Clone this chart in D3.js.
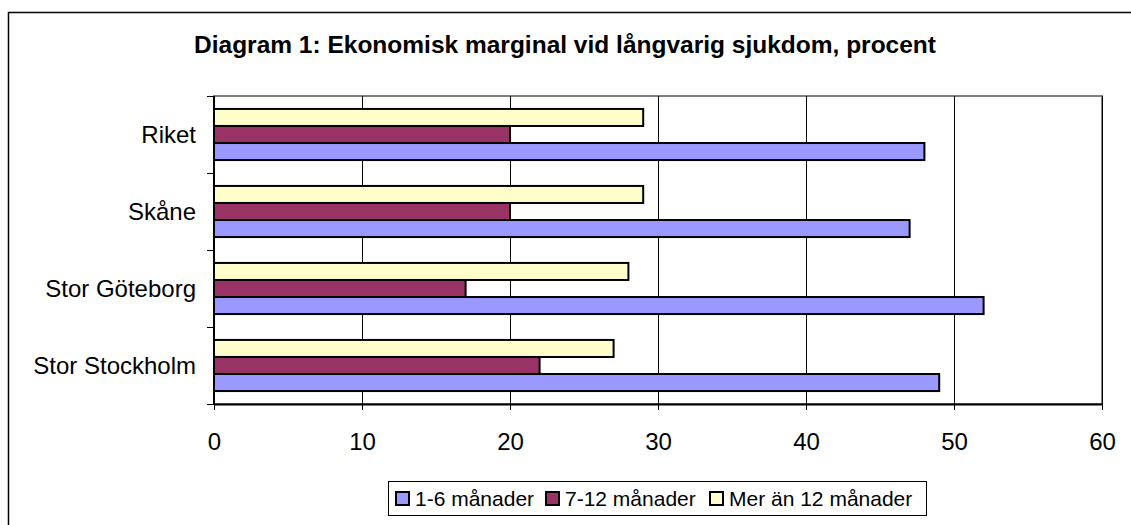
<!DOCTYPE html>
<html>
<head>
<meta charset="utf-8">
<script src="https://cdn.jsdelivr.net/npm/d3@7"></script>
<style>
  body { margin: 0; background: #fff; }
  svg { display: block; font-family: "Liberation Sans", Arial, sans-serif; }
  .grid line { stroke: #000; stroke-width: 1; }
  .axis path, .axis line { stroke: #000; }
  .axis text { font-size: 24px; fill: #000; }
</style>
</head>
<body>
<svg class="chart"></svg>
<script>
// data
var categories = ["Riket", "Skåne", "Stor Göteborg", "Stor Stockholm"];
var seriesNames = ["Mer än 12 månader", "7-12 månader", "1-6 månader"];
var mer12 = [29, 29, 28, 27];
var m7_12 = [20, 20, 17, 22];
var m1_6 = [48, 47, 52, 49];
var xTicks = [0, 10, 20, 30, 40, 50, 60];
var legendOrder = ["1-6 månader", "7-12 månader", "Mer än 12 månader"];

var colors = {
  "1-6 månader": "#9999ff",
  "7-12 månader": "#993366",
  "Mer än 12 månader": "#ffffcc"
};

var W = 1131, H = 525;
var margin = {top: 96, right: 29, bottom: 121, left: 214};
var width = W - margin.left - margin.right,
    height = H - margin.top - margin.bottom;

var svg = d3.select(".chart").attr("width", W).attr("height", H);

// outer frame (runs off the right and bottom edges)
svg.append("rect")
    .attr("x", 8.5).attr("y", 12.5)
    .attr("width", 1200).attr("height", 600)
    .attr("fill", "none").attr("stroke", "#000").attr("stroke-width", 1.5);

svg.append("text")
    .attr("x", 565).attr("y", 53)
    .attr("text-anchor", "middle")
    .style("font-size", "24.5px").style("font-weight", "bold")
    .text("Diagram 1: Ekonomisk marginal vid långvarig sjukdom, procent");

var chart = svg.append("g")
    .attr("transform", "translate(" + margin.left + "," + margin.top + ")");

var x = d3.scaleLinear().domain([0, 60]).range([0, width]);
var y = d3.scaleBand().domain(categories).range([0, height]).padding(0);
var ySeries = d3.scaleBand().domain(seriesNames).range([0, y.bandwidth()])
    .paddingInner(0).paddingOuter(0.76);

// plot area border
chart.append("rect")
    .attr("width", width).attr("height", height)
    .attr("fill", "#fff").attr("stroke", "#808080").attr("stroke-width", 2);

chart.append("g").attr("class", "grid")
  .selectAll("line").data(xTicks.slice(1))
  .enter().append("line")
    .attr("x1", function(d) { return Math.round(x(d)) + 0.5; })
    .attr("x2", function(d) { return Math.round(x(d)) + 0.5; })
    .attr("y1", 0).attr("y2", height);

var rows = categories.map(function(c, i) {
  return {cat: c, values: [
    {name: "Mer än 12 månader", value: mer12[i]},
    {name: "7-12 månader", value: m7_12[i]},
    {name: "1-6 månader", value: m1_6[i]}
  ]};
});

var group = chart.selectAll(".cat")
    .data(rows)
  .enter().append("g")
    .attr("class", "cat")
    .attr("transform", function(d) { return "translate(0," + y(d.cat) + ")"; });

group.selectAll("rect")
    .data(function(d) { return d.values; })
  .enter().append("rect")
    .attr("x", 0)
    .attr("y", function(d) { return ySeries(d.name); })
    .attr("width", function(d) { return x(d.value); })
    .attr("height", ySeries.bandwidth())
    .attr("fill", function(d) { return colors[d.name]; })
    .attr("stroke", "#000")
    .attr("stroke-width", 2);

// x axis, ticks cross the line
var xAxis = chart.append("g")
    .attr("class", "axis")
    .attr("transform", "translate(0," + height + ")")
    .call(d3.axisBottom(x).tickValues(xTicks).tickSize(0).tickPadding(0));
xAxis.select(".domain").attr("stroke", "#404040").attr("stroke-width", 2);
xAxis.selectAll(".tick line").attr("y1", -6).attr("y2", 6).attr("stroke", "#000");
xAxis.selectAll(".tick text").attr("y", 46).attr("dy", 0);

// y axis, ticks on band edges
var yAxisG = chart.append("g").attr("class", "axis");
yAxisG.append("line")
    .attr("x1", 0).attr("x2", 0).attr("y1", 0).attr("y2", height)
    .attr("stroke", "#404040").attr("stroke-width", 2);
yAxisG.selectAll(".ytick")
    .data(categories.concat(["end"]))
  .enter().append("line")
    .attr("x1", -7).attr("x2", 0)
    .attr("y1", function(d, i) { return Math.round(i * y.step()) + 0.5; })
    .attr("y2", function(d, i) { return Math.round(i * y.step()) + 0.5; })
    .attr("stroke", "#000");
yAxisG.selectAll(".ylab")
    .data(categories)
  .enter().append("text")
    .attr("x", -18)
    .attr("y", function(d) { return y(d) + y.bandwidth() / 2; })
    .attr("dy", "0.35em")
    .attr("text-anchor", "end")
    .text(function(d) { return d; });

// legend
var legend = svg.append("g").attr("transform", "translate(388,481)");
legend.append("rect")
    .attr("x", 0.5).attr("y", 0.5).attr("width", 538).attr("height", 34)
    .attr("fill", "#fff").attr("stroke", "#000").attr("stroke-width", 1);
var legendX = [8, 158, 322];
var item = legend.selectAll(".item")
    .data(legendOrder)
  .enter().append("g")
    .attr("transform", function(d, i) { return "translate(" + legendX[i] + ",0)"; });
item.append("rect")
    .attr("x", 0).attr("y", 11).attr("width", 13).attr("height", 13)
    .attr("fill", function(d) { return colors[d]; })
    .attr("stroke", "#000").attr("stroke-width", 2);
item.append("text")
    .attr("x", 19).attr("y", 25)
    .style("font-size", "21px")
    .text(function(d) { return d; });
</script>
</body>
</html>
